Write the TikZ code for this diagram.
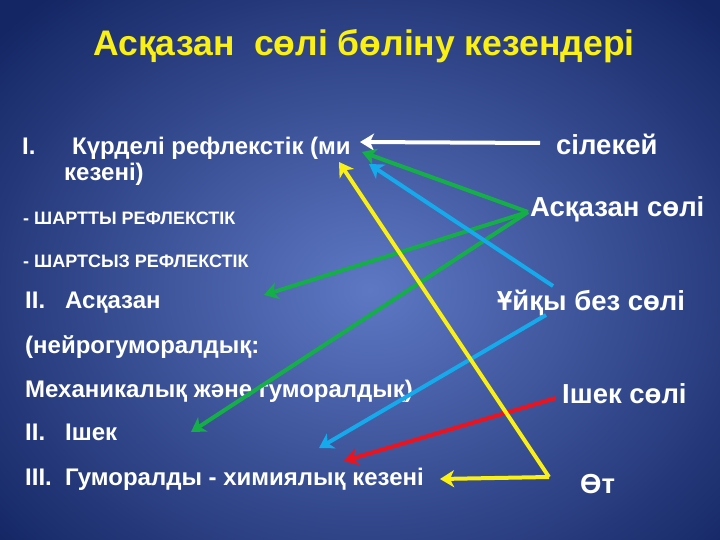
\documentclass[tikz,border=0pt]{standalone}
\usepackage{fontspec}
\setmainfont{Liberation Sans}
\usetikzlibrary{arrows.meta}
\definecolor{bgin}{RGB}{94,120,196}
\definecolor{bgout}{RGB}{20,38,100}
\definecolor{ttl}{RGB}{250,240,20}
\definecolor{grn}{RGB}{20,175,70}
\definecolor{cyn}{RGB}{20,170,235}
\definecolor{rd}{RGB}{235,20,30}
\definecolor{ylw}{RGB}{250,240,20}
\tikzset{
  lt/.style={anchor=base west,text=white,font=\bfseries\fontsize{24}{26}\selectfont,inner sep=0pt},
  st/.style={anchor=base west,text=white,font=\bfseries\fontsize{18}{20}\selectfont,inner sep=0pt},
  rt/.style={anchor=base west,text=white,font=\bfseries\fontsize{27.5}{30}\selectfont,inner sep=0pt},
  arr/.style={line width=4pt,-{Stealth[length=14pt,width=17pt,inset=4pt]}},
}
\begin{document}
\begin{tikzpicture}[x=1pt,y=-1pt]
\useasboundingbox (0,0) rectangle (720,540);
\clip (0,0) rectangle (720,540);
\shade[inner color=bgin,outer color=bgout] (-120,-100) rectangle (860,680);
% title
\node[anchor=base,text=ttl,font=\bfseries\fontsize{35.5}{38}\selectfont,inner sep=0pt] (title) at (364,56) {Асқазан\ \ сөлі бөліну кезендері};
% left texts
\node[lt] (n1) at (22,155) {I.};
\node[lt] (t1) at (72,155) {Күрделі рефлекстік (ми};
\node[lt] (t1b) at (64,181) {кезені)};
\node[st] (t2) at (23,225) {- ШАРТТЫ РЕФЛЕКСТІК};
\node[st] (t3) at (23,267) {- ШАРТСЫЗ РЕФЛЕКСТІК};
\node[lt] (n4) at (25,308) {II.};
\node[lt] (t4) at (65,308) {Асқазан};
\node[lt] (t5) at (25,353) {(нейрогуморалдық:};
\node[lt] (t6) at (25,397) {Механикалық және гуморалдық)};
\node[lt] (n7) at (25,440) {II.};
\node[lt] (t7) at (65,440) {Ішек};
\node[lt] (n8) at (25,485) {III.};
\node[lt] (t8) at (65,485) {Гуморалды - химиялық кезені};
% right texts
\node[rt] (r1) at (556,155) {сілекей};
\node[rt] (r2) at (530,217) {Асқазан сөлі};
\node[rt] (r3) at (497,310) {Ұйқы без сөлі};
\node[rt] (r4) at (562,403) {Ішек сөлі};
\node[rt] (r5) at (580,493) {Өт};
% arrow ends
\coordinate (wS) at (540,143);
\coordinate (wE) at (360,142);
\coordinate (gS) at (528,212);
\coordinate (g1) at (362,152);
\coordinate (g2) at (264,295);
\coordinate (g3) at (191,432);
\coordinate (bS1) at (553,286);
\coordinate (b1) at (369,164);
\coordinate (bS2) at (546,315);
\coordinate (b2) at (319,448);
\coordinate (rS) at (556,398);
\coordinate (rE) at (344,461);
\coordinate (yS) at (549,477);
\coordinate (y1) at (339,162);
\coordinate (y2) at (440,479);
% arrows
\draw[arr,white] (wS) -- (wE);
\draw[arr,grn] (gS) -- (g1);
\draw[arr,grn] (gS) -- (g2);
\draw[arr,grn] (gS) -- (g3);
\draw[arr,cyn] (bS1) -- (b1);
\draw[arr,cyn] (bS2) -- (b2);
\draw[arr,rd] (rS) -- (rE);
\draw[arr,ylw,line join=round] (yS) -- (y1);
\draw[arr,ylw] (yS) -- (y2);
\end{tikzpicture}
\end{document}
